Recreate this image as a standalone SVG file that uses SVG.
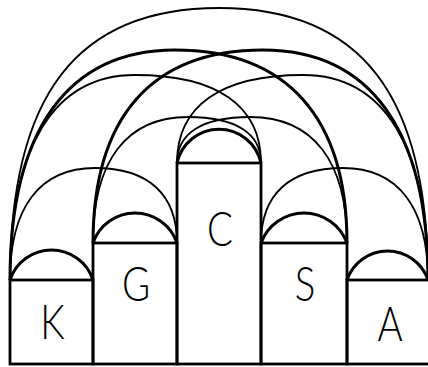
<svg xmlns="http://www.w3.org/2000/svg" width="428" height="367" viewBox="0 0 428 367">
<style>
.box{fill:none;stroke:#000;stroke-width:2.8}
.cap{fill:none;stroke:#000;stroke-width:3}
.thin{fill:none;stroke:#000;stroke-width:1.8}
.thick{fill:none;stroke:#000;stroke-width:3}
.lbl{font-family:Lato,"Liberation Sans",Arial,sans-serif;font-size:48px;font-weight:300;fill:#000;text-anchor:middle}
</style>
<rect width="428" height="367" fill="#fff"/>
<g id="connectors">
<path class="thin" d="M10,280 C10,95 76.9,8 219,8 C361.1,8 428,95 428,280"/>
<path class="thick" d="M10,280 C10,130.5 67.75,50 175,50 C286.8,50 347,117.55 347,243"/>
<path class="thick" d="M93,243 C93,117.55 151.2,50 263,50 C370.25,50 428,130.5 428,280"/>
<path class="thin" d="M10,280 C10,146.75 53.75,75 135,75 C216.9,75 261,105.8 261,163"/>
<path class="thin" d="M177,163 C177,105.8 221.1,75 303,75 C384.25,75 428,146.75 428,280"/>
<path class="thin" d="M93,243 C93,161.1 126.25,117 188,117 C235.45,117 261,133.1 261,163"/>
<path class="thin" d="M177,163 C177,133.1 202.55,117 250,117 C313.05,117 347,161.1 347,243"/>
<path class="thin" d="M10,280 C10,207.2 39.75,168 95,168 C148.3,168 177,194.25 177,243"/>
<path class="thin" d="M261,243 C261,194.25 289.7,168 343,168 C398.25,168 428,207.2 428,280"/>
<path class="cap" d="M10,280 A43.7,43.7 0 0 1 93,280"/>
<path class="cap" d="M93,243 A44.4,44.4 0 0 1 177,243"/>
<path class="cap" d="M177,163 A43,43 0 0 1 261,163"/>
<path class="cap" d="M261,243 A45.8,45.8 0 0 1 347,243"/>
<path class="cap" d="M347,280 A42.8,42.8 0 0 1 428,280"/>
</g>
<g id="K"><rect class="box" x="10" y="280" width="83" height="84"/><text class="lbl" transform="translate(52.5,339) scale(0.8,1)">K</text></g>
<g id="G"><rect class="box" x="93" y="243" width="84" height="121"/><text class="lbl" transform="translate(136,301) scale(0.8,1)">G</text></g>
<g id="C"><rect class="box" x="177" y="163" width="84" height="201"/><text class="lbl" transform="translate(220,246) scale(0.8,1)">C</text></g>
<g id="S"><rect class="box" x="261" y="243" width="86" height="121"/><text class="lbl" transform="translate(305,301) scale(0.8,1)">S</text></g>
<g id="A"><rect class="box" x="347" y="280" width="84" height="84"/><text class="lbl" transform="translate(390,341) scale(0.8,1)">A</text></g>
</svg>
